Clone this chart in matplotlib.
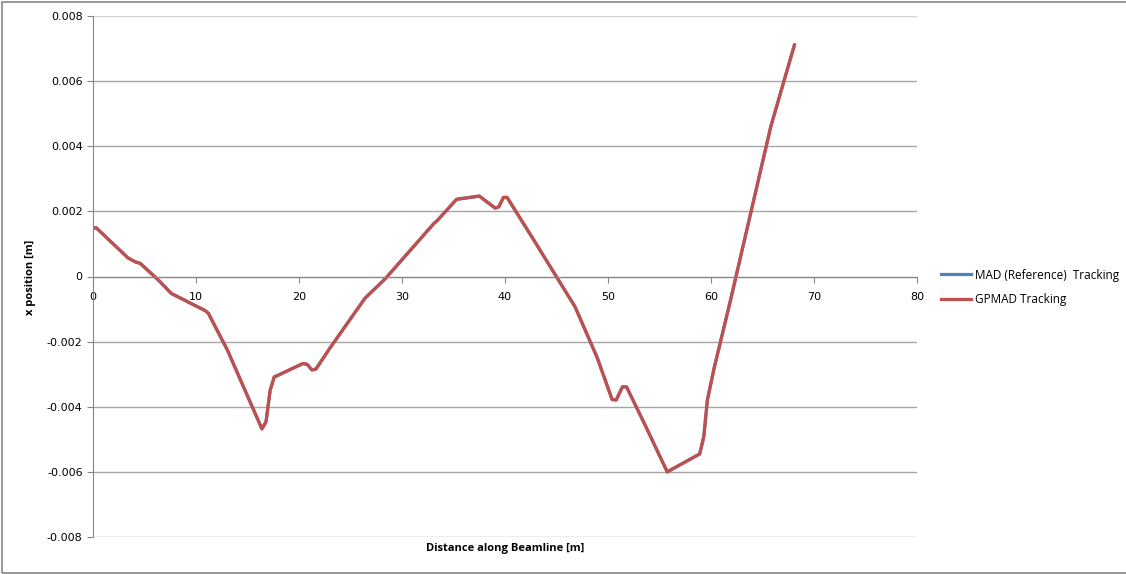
import matplotlib.pyplot as plt
from matplotlib.patches import Rectangle

# beam orbit along the line, metres
s_pos = [0.0, 0.3, 3.4, 4.1, 4.6, 6.35, 7.6, 10.9, 11.2, 13.05, 16.4, 16.8, 17.2,
         17.6, 17.85, 20.4, 20.8, 21.25, 21.65, 23.0, 26.4, 28.4, 33.1, 33.4,
         35.3, 37.5, 39.05, 39.4, 39.85, 40.2, 42.5, 46.8, 48.95, 50.4, 50.8,
         51.4, 51.8, 53.6, 55.75, 58.9, 59.3, 59.65, 60.3, 61.9, 65.8, 68.1]
x_mad = [0.00148, 0.0015, 0.00057, 0.00045, 0.0004, -0.00011, -0.00052, -0.00105,
         -0.00113, -0.00226, -0.00468, -0.00446, -0.00349, -0.00308, -0.00305,
         -0.00267, -0.0027, -0.00287, -0.00284, -0.0022, -0.00067, -0.00006,
         0.00163, 0.00171, 0.00237, 0.00247, 0.0021, 0.00214, 0.00243, 0.00243,
         0.00127, -0.00093, -0.00249, -0.00378, -0.00379, -0.00339, -0.00339,
         -0.00456, -0.006, -0.00545, -0.00492, -0.00379, -0.00282, -0.00072,
         0.0046, 0.00711]
x_gpmad = list(x_mad)

x_ticks = [0, 10, 20, 30, 40, 50, 60, 70, 80]
y_ticks = [-0.008, -0.006, -0.004, -0.002, 0, 0.002, 0.004, 0.006, 0.008]
y_labels = ["-0.008", "-0.006", "-0.004", "-0.002", "0", "0.002", "0.004", "0.006", "0.008"]

fig = plt.figure(figsize=(11.26, 5.74), dpi=100)
ax = fig.add_axes([93 / 1126, 1 - 537 / 574, (917 - 93) / 1126, (537 - 16) / 574])

ax.plot(s_pos, x_mad, color="#4F81BD", lw=2.3, label="MAD (Reference)  Tracking")
ax.plot(s_pos, x_gpmad, color="#C0504D", lw=2.3, label="GPMAD Tracking")

ax.set_xlim(0, 80)
ax.set_ylim(-0.008, 0.008)
ax.set_xticks(x_ticks)
ax.set_yticks(y_ticks)
ax.set_yticklabels(y_labels)
ax.grid(axis="y", color="#a6a6a6", lw=1)
ax.get_ygridlines()[-1].set_color("#d4d4d4")
ax.set_axisbelow(True)

for side in ["top", "right"]:
    ax.spines[side].set_visible(False)
ax.spines["bottom"].set_position(("data", 0))
ax.spines["bottom"].set_color("#868686")
ax.spines["left"].set_color("#868686")
ax.tick_params(axis="both", colors="#868686", labelcolor="black", labelsize=8,
               length=4, direction="out")
ax.tick_params(axis="x", pad=7)
for lab in ax.get_xticklabels() + ax.get_yticklabels():
    lab.set_family("DejaVu Sans")

fig.text(505 / 1126, 1 - 549 / 574, "Distance along Beamline [m]", ha="center",
         va="center", fontsize=8, fontweight="bold", family="Open Sans")
fig.text(31 / 1126, 1 - 277 / 574, "x position [m]", ha="center", va="center",
         rotation=90, fontsize=8, fontweight="bold", family="Open Sans")

leg = fig.legend(loc="upper left", bbox_to_anchor=(930 / 1126, 1 - 258 / 574),
                 frameon=False, handlelength=2.6, handletextpad=0.35,
                 labelspacing=1.0, prop={"family": "Open Sans", "size": 8.5})

# outer chart frame
fig.patches.append(Rectangle((2 / 1126, 1 / 574), 1.0, 1 - 3 / 574,
                             transform=fig.transFigure, fill=False,
                             edgecolor="#868686", lw=1.2))

fig.savefig("out.png", dpi=100)
